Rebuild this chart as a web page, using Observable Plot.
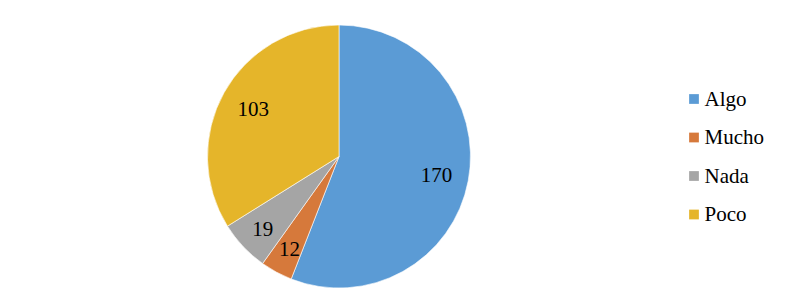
<!DOCTYPE html>
<html>
<head>
<meta charset="utf-8">
<script src="https://cdn.jsdelivr.net/npm/d3@7"></script>
<script src="https://cdn.jsdelivr.net/npm/@observablehq/plot@0.6"></script>
<style>
  html, body { margin: 0; padding: 0; background: #fff; }
  #chart svg { display: block; }
</style>
</head>
<body>
<div id="chart"></div>
<script>
const categories = ["Algo", "Mucho", "Nada", "Poco"];
const values = [170, 12, 19, 103];
const colors = ["#5B9BD5", "#D6793B", "#A5A5A5", "#E5B52A"];

const rows = categories.map((c, i) => ({category: c, value: values[i], order: i}));
const arcs = d3.pie().sort(null).value(d => d.value)(rows);
const labelRows = arcs.map(a => {
  const mid = (a.startAngle + a.endAngle) / 2;
  const k = a.data.value < 50 ? 0.80 : 0.75;
  return {label: String(a.data.value), x: k * Math.sin(mid), y: k * Math.cos(mid)};
});

const W = 792, H = 297;
const cx = 339, cy = 156.5, R = 131.5;
const toX = px => (px - cx) / R;
const toY = py => (cy - py) / R;
const FONT = "Liberation Serif, Tinos, DejaVu Serif, Times New Roman, serif";

const pieMark = (index, scales) => {
  const sx = scales.x, sy = scales.y;
  const ox = sx(0), oy = sy(0), rad = sx(1) - sx(0);
  const color = scales.color || (c => colors[categories.indexOf(c)]);
  const g = d3.create("svg:g").attr("transform", `translate(${ox},${oy})`);
  const arcGen = d3.arc().innerRadius(0).outerRadius(rad);
  g.selectAll("path").data(arcs).join("path")
    .attr("d", arcGen)
    .attr("fill", d => color(d.data.category))
    .attr("stroke", "#fff")
    .attr("stroke-width", 0.6);
  return g.node();
};

const chart = Plot.plot({
  width: W,
  height: H,
  marginLeft: cx - R,
  marginRight: W - (cx + R),
  marginTop: cy - R,
  marginBottom: H - (cy + R),
  x: {domain: [-1, 1], axis: null},
  y: {domain: [-1, 1], axis: null},
  color: {domain: categories, range: colors},
  style: {fontFamily: FONT, background: "#fff"},
  marks: [
    pieMark,
    Plot.text(labelRows, {x: "x", y: "y", text: "label", fontSize: 21, fontFamily: FONT, fill: "#000"}),
    Plot.dot(rows, {x: () => toX(693.5), y: d => toY(98.5 + 38.5 * d.order), symbol: "square", r: 5.5, fill: "category", stroke: null}),
    Plot.text(rows, {x: () => toX(704), y: d => toY(98.5 + 38.5 * d.order), text: "category", textAnchor: "start", fontSize: 21, fontFamily: FONT, fill: "#000"})
  ]
});
document.getElementById("chart").appendChild(chart);
</script>
</body>
</html>
